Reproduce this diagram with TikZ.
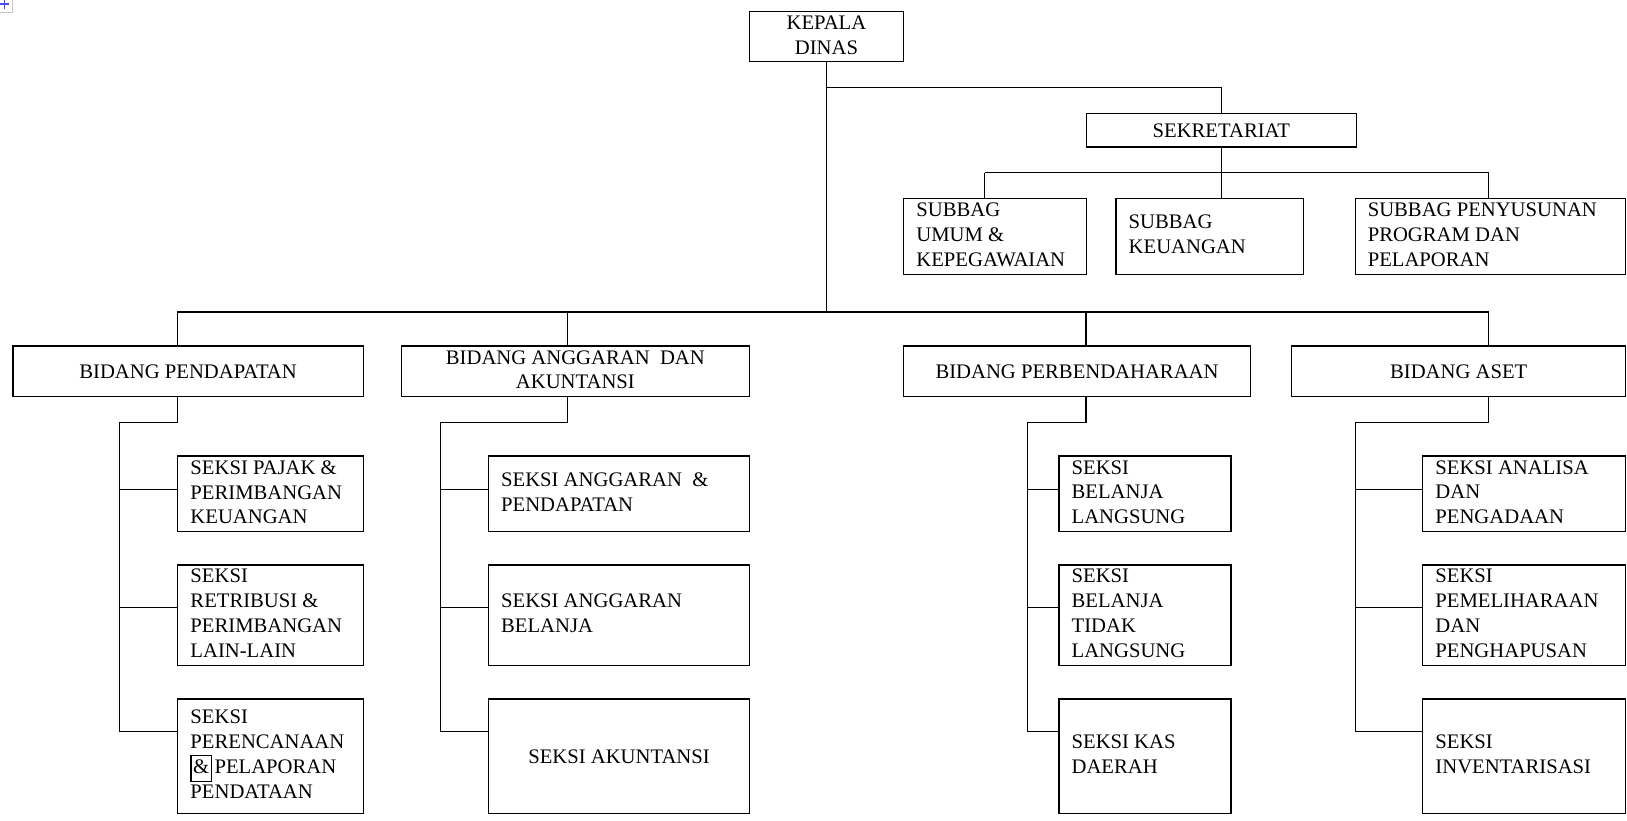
\documentclass[tikz,border=0pt]{standalone}
\usepackage{fontspec}
\setmainfont{Liberation Serif}
\hyphenpenalty=10000
\exhyphenpenalty=10000
\newcommand\fz{\fontsize{15.5pt}{18.7pt}\selectfont}
\newcommand\ampbox{{\setlength\fboxsep{1.2pt}\setlength\fboxrule{0.8pt}\fbox{\rule[-4.4pt]{0pt}{16.5pt}\&}}}
\tikzset{
  box/.style={draw, line width=0.9pt, inner sep=0pt},
  txt/.style={font=\fz, inner sep=0pt, yshift=-1.5pt,
    execute at begin node=\strut, execute at end node=\strut},
  ln/.style={draw, line width=0.9pt},
}
\newcommand\bxc[6]{%
  \pgfmathsetlengthmacro\mw{(#4-#2)*0.7782}%
  \pgfmathsetlengthmacro\mh{(#5-#3)*0.7782}%
  \node[box,minimum width=\mw,minimum height=\mh,
    label={[txt,align=center,anchor=center]center:{#6}}] (#1) at ({(#2+#4)/2},{(#3+#5)/2}) {};}
\newcommand\bxl[6]{%
  \pgfmathsetlengthmacro\mw{(#4-#2)*0.7782}%
  \pgfmathsetlengthmacro\mh{(#5-#3)*0.7782}%
  \pgfmathsetlengthmacro\ix{12.5*0.7782}%
  \node[box,minimum width=\mw,minimum height=\mh,
    label={[txt,align=left,anchor=west,xshift=\ix]west:{#6}}] (#1) at ({(#2+#4)/2},{(#3+#5)/2}) {};}
\newcommand\spine[7]{%
  \coordinate (#1a) at (#2,407);
  \coordinate (#1b) at (#3,407);
  \coordinate (#1c) at (#3,471.6);
  \coordinate (#1d) at (#3,585.3);
  \coordinate (#1e) at (#3,705.2);
  \draw[ln] (#1a |- #4.south) -- (#1a) -- (#1b) -- (#1e);
  \draw[ln] (#1c) -- (#1c -| #5.west);
  \draw[ln] (#1d) -- (#1d -| #6.west);
  \draw[ln] (#1e) -- (#1e -| #7.west);}
\begin{document}
\begin{tikzpicture}[x=0.7782pt,y=-0.7782pt]
\useasboundingbox (0,0) rectangle (1568,791);
% corner handle
\draw[gray!45, fill=white, line width=0.6pt] (-3,-3) rectangle (11.5,11.5);
\draw[blue!70, line width=1pt] (0,4) -- (9,4) (4.5,0) -- (4.5,9);
% top
\bxc{kd}{722}{11.2}{871}{59.4}{KEPALA\\DINAS}
\bxc{sek}{1047}{109.2}{1307}{141.7}{SEKRETARIAT}
\bxl{sb1}{871}{191.1}{1047}{264.4}{SUBBAG\\UMUM \&\\KEPEGAWAIAN}
\bxl{sb2}{1075.6}{191.1}{1256}{264.4}{SUBBAG\\KEUANGAN}
\bxl{sb3}{1306}{191.1}{1566.6}{264.4}{SUBBAG PENYUSUNAN\\PROGRAM DAN\\PELAPORAN}
% bidang
\bxc{bp}{12.6}{333.5}{350}{382.3}{BIDANG PENDAPATAN}
\bxc{ba}{387}{333.5}{722}{382.3}{BIDANG ANGGARAN~ DAN\\AKUNTANSI}
\bxc{bb}{871}{333.5}{1205}{382.3}{BIDANG PERBENDAHARAAN}
\bxc{bs}{1245}{333.5}{1566.6}{382.3}{BIDANG ASET}
% seksi pendapatan
\bxl{p1}{171.4}{439.5}{350.3}{512.4}{SEKSI PAJAK \&\\PERIMBANGAN\\KEUANGAN}
\bxl{p2}{171.4}{544.5}{350.3}{641.2}{SEKSI\\RETRIBUSI \&\\PERIMBANGAN\\LAIN-LAIN}
\bxl{p3}{171.4}{673.7}{350.3}{783.8}{SEKSI\\PERENCANAAN\\\ampbox\kern2pt PELAPORAN\\PENDATAAN}
% seksi anggaran
\bxl{a1}{470.8}{439.5}{722.3}{512.4}{SEKSI ANGGARAN~ \&\\PENDAPATAN}
\bxl{a2}{470.8}{544.5}{722.3}{641.2}{SEKSI ANGGARAN\\BELANJA}
\bxc{a3}{470.8}{673.7}{722.3}{783.8}{SEKSI AKUNTANSI}
% seksi perbendaharaan
\bxl{b1}{1020.6}{439.5}{1186.4}{512.4}{SEKSI\\BELANJA\\LANGSUNG}
\bxl{b2}{1020.6}{544.5}{1186.4}{641.2}{SEKSI\\BELANJA\\TIDAK\\LANGSUNG}
\bxl{b3}{1020.6}{673.7}{1186.4}{783.8}{SEKSI KAS\\DAERAH}
% seksi aset
\bxl{s1}{1371.2}{439.5}{1566.6}{512.4}{SEKSI ANALISA\\DAN\\PENGADAAN}
\bxl{s2}{1371.2}{544.5}{1566.6}{641.2}{SEKSI\\PEMELIHARAAN\\DAN\\PENGHAPUSAN}
\bxl{s3}{1371.2}{673.7}{1566.6}{783.8}{SEKSI\\INVENTARISASI}
% top connectors
\coordinate (j1) at (kd.south |- 0,84.5);
\coordinate (b0) at (kd.south |- 0,300.7);
\draw[ln] (kd.south) -- (b0);
\draw[ln] (j1) -| (sek.north);
\coordinate (t1) at (949,166.4);
\coordinate (t3) at (1434.6,166.4);
\draw[ln] (t1) -- (t3);
\draw[ln] (sek.south) -- (sek.south |- sb2.north);
\draw[ln] (t1) -- (t1 |- sb1.north);
\draw[ln] (t3) -- (t3 |- sb3.north);
% main bus
\coordinate (m1) at (171,300.7);
\coordinate (m2) at (547,300.7);
\coordinate (m3) at (1046.7,300.7);
\coordinate (m4) at (1434.6,300.7);
\draw[ln] (m1) -- (m4);
\draw[ln] (m1) -- (m1 |- bp.north);
\draw[ln] (m2) -- (m2 |- ba.north);
\draw[ln] (m3) -- (m3 |- bb.north);
\draw[ln] (m4) -- (m4 |- bs.north);
% lower spines
\spine{P}{171}{115.4}{bp}{p1}{p2}{p3}
\spine{A}{547}{424.4}{ba}{a1}{a2}{a3}
\spine{B}{1046.7}{990.6}{bb}{b1}{b2}{b3}
\spine{S}{1434.6}{1306}{bs}{s1}{s2}{s3}
\end{tikzpicture}
\end{document}
